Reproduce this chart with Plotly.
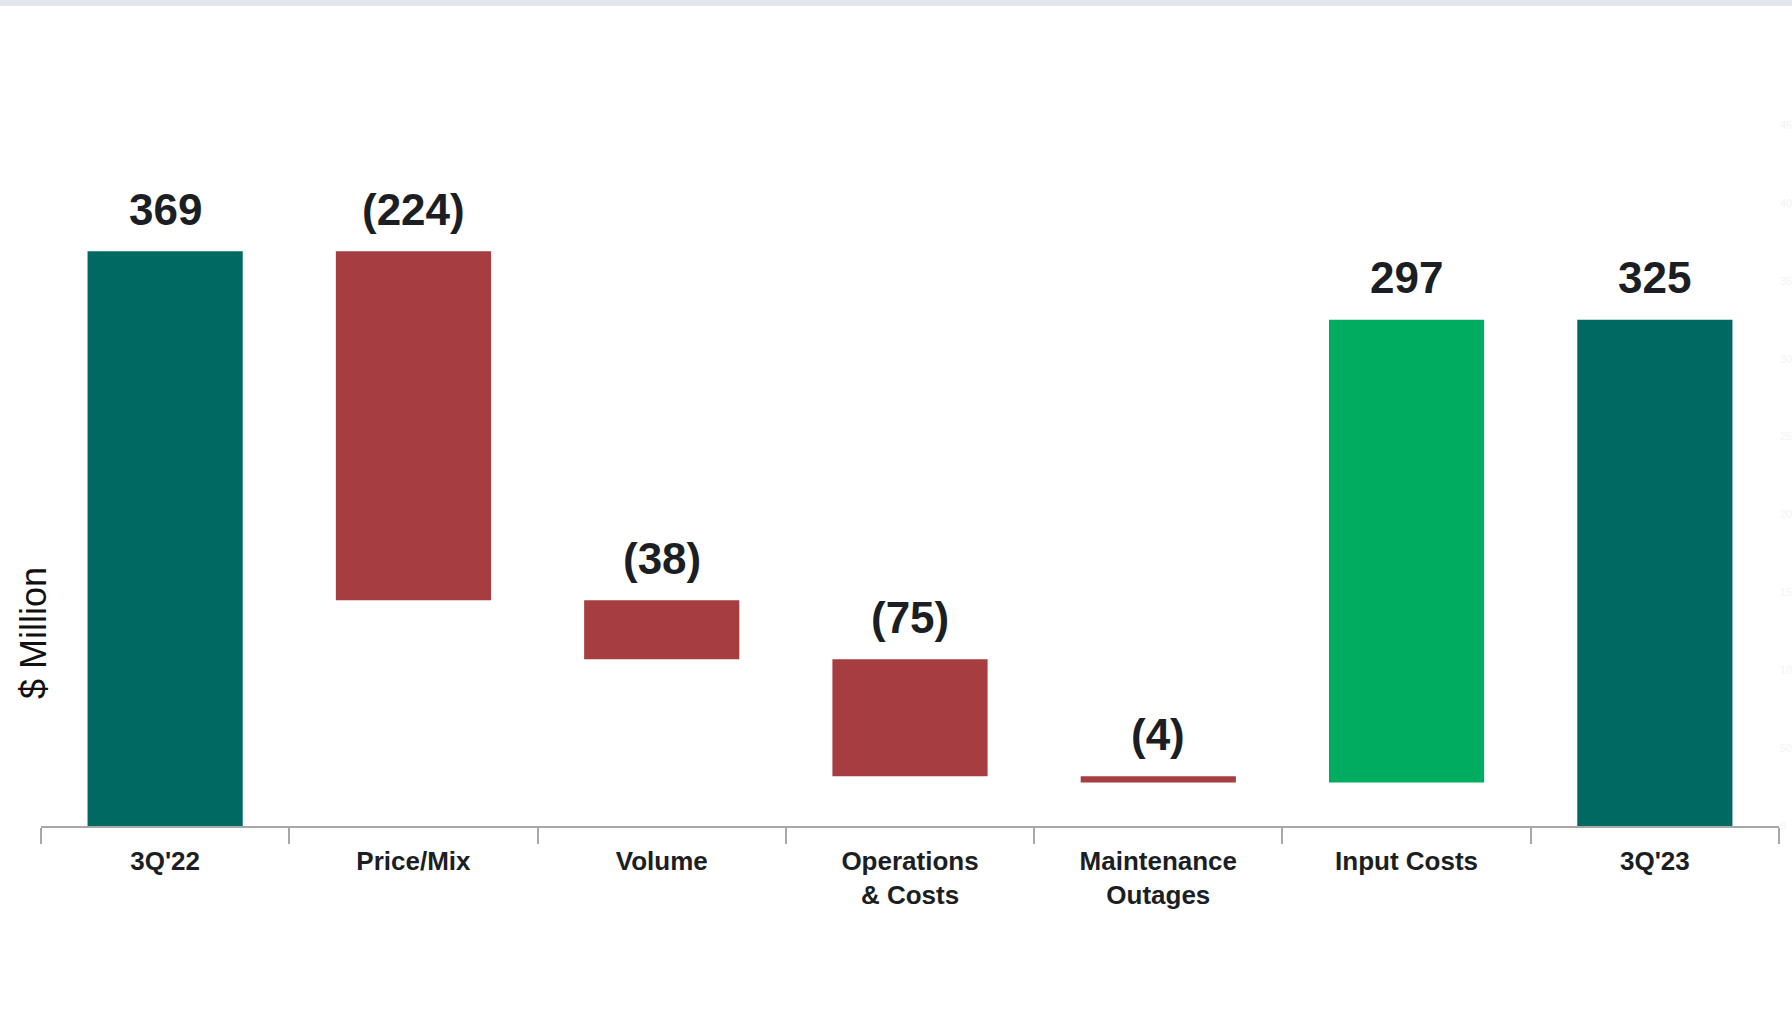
import plotly.graph_objects as go

# ---- data ----
categories = ["3Q'22", "Price/Mix", "Volume", "Operations<br>& Costs",
              "Maintenance<br>Outages", "Input Costs", "3Q'23"]
values = [369, -224, -38, -75, -4, 297, 325]
measures = ["total", "relative", "relative", "relative", "relative", "relative", "total"]
labels = ["369", "(224)", "(38)", "(75)", "(4)", "297", "325"]
ytick_vals = [0, 50, 100, 150, 200, 250, 300, 350, 400, 450]

# ---- style ----
TEAL = "#006A62"
RED = "#A63D41"
GREEN = "#00AC5F"
TEXT = "#1B1E23"
AXIS = "#A8A8A8"
FONT = "Liberation Sans, Arial, sans-serif"

W, H = 1792, 1018
ML, MR, MT, MB = 41, 13, 94, 192

bases, heights, colors, tops = [], [], [], []
running = 0
for v, m in zip(values, measures):
    if m == "total":
        bases.append(0)
        heights.append(v)
        colors.append(TEAL)
        running = v
        tops.append(v)
    else:
        new = running + v
        bases.append(min(running, new))
        heights.append(abs(v))
        colors.append(GREEN if v > 0 else RED)
        tops.append(max(running, new))
        running = new

fig = go.Figure()
fig.add_trace(go.Bar(
    x=categories, y=heights, base=bases,
    marker=dict(color=colors, line=dict(width=0)),
    width=0.625, hoverinfo="skip", showlegend=False,
))

annotations = []
for c, t, lab in zip(categories, tops, labels):
    annotations.append(dict(
        x=c, y=t, xref="x", yref="y", text=lab, showarrow=False,
        yanchor="middle", yshift=42,
        font=dict(family=FONT, size=44, color=TEXT, weight="bold"),
    ))

plot_w = W - ML - MR
plot_h = H - MT - MB
# y-axis title as annotation
annotations.append(dict(
    xref="paper", yref="paper",
    x=(33 - ML) / plot_w, y=(H - MB - 633) / plot_h,
    text="$ Million", textangle=-90, showarrow=False,
    xanchor="center", yanchor="middle",
    font=dict(family=FONT, size=36, color="#111111"),
))

shapes = [dict(
    type="rect", xref="paper", yref="paper",
    x0=-0.1, x1=1.1,
    y0=(H - MB - 6) / plot_h, y1=(H - MB + 2) / plot_h,
    fillcolor="#E2E5EA", line=dict(width=0), layer="below",
)]

fig.update_layout(
    width=W, height=H,
    margin=dict(l=ML, r=MR, t=MT, b=MB, pad=0, autoexpand=False),
    paper_bgcolor="white", plot_bgcolor="white",
    font=dict(family=FONT, color=TEXT),
    bargap=0.375,
    annotations=annotations,
    shapes=shapes,
    xaxis=dict(
        type="category", automargin=False,
        showline=True, linecolor=AXIS, linewidth=2,
        ticks="outside", tickson="boundaries", ticklen=16,
        tickcolor=AXIS, tickwidth=2, ticklabelstandoff=11,
        tickfont=dict(family=FONT, size=26, color=TEXT, weight="bold"),
        showgrid=False, zeroline=False,
    ),
    yaxis=dict(
        range=[0, 470], side="right", automargin=False,
        tickvals=ytick_vals, showgrid=False, zeroline=False,
        showline=False, ticks="",
        tickfont=dict(family=FONT, size=11, color="#F3F3F3"),
    ),
)

fig.write_html("out.html")
